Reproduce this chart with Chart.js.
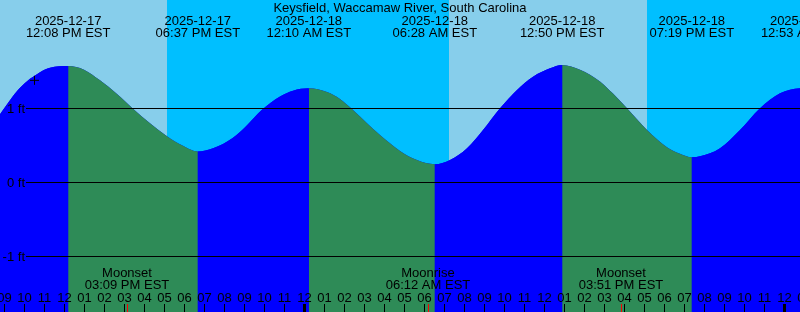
<!DOCTYPE html>
<html><head><meta charset="utf-8">
<script src="https://cdn.jsdelivr.net/npm/chart.js@4/dist/chart.umd.min.js"></script>
<style>html,body{margin:0;padding:0;background:#fff;overflow:hidden}#wrap{width:800px;height:312px;position:relative}</style>
</head><body><div id="wrap"><canvas id="c" width="800" height="312"></canvas></div>
<script>
const chartTitle = "Keysfield, Waccamaw River, South Carolina";
// hours relative to 2025-12-18 00:00 EST, heights in ft
const times   = [-15.275,-14.275,-13.275,-12.775,-11.867,
                 -11.075,-10.275,-9.425,-8.625,-7.775,-6.925,-6.125,-5.383,
                 -4.625,-3.625,-2.925,-2.175,-1.275,-0.625,0.167,
                 1.075,1.725,2.375,3.075,3.725,4.725,5.575,6.467,
                 7.225,8.075,8.875,9.725,10.575,11.375,12.225,12.833,
                 13.725,14.725,15.375,16.075,17.075,18.075,18.725,19.317,
                 20.225,20.725,21.725,22.725,23.725,24.725,24.883];
const heights = [0.93,1.29,1.50,1.56,1.585,
                 1.535,1.39,1.205,1.005,0.805,0.63,0.50,0.422,
                 0.465,0.61,0.78,0.99,1.17,1.25,1.282,
                 1.23,1.135,0.985,0.805,0.645,0.43,0.305,0.248,
                 0.306,0.465,0.714,1.01,1.259,1.439,1.554,1.599,
                 1.535,1.375,1.21,1.01,0.715,0.48,0.39,0.343,
                 0.397,0.465,0.714,1.01,1.214,1.282,1.283];
const extremeTimes = [-11.867,-5.383,0.167,6.467,12.833,19.317,24.883];
const extremeDates = ["2025-12-17","2025-12-17","2025-12-18","2025-12-18","2025-12-18","2025-12-18","2025-12-19"];
const extremeLabels = ["12:08 PM EST","06:37 PM EST","12:10 AM EST","06:28 AM EST","12:50 PM EST","07:19 PM EST","12:53 AM EST"];
const moonTimes = [-8.85, 6.2, 15.85];
const moonEvents = ["Moonset","Moonrise","Moonset"];
const moonLabels = ["03:09 PM EST","06:12 AM EST","03:51 PM EST"];
const dayStarts = [-15.275, 7.175];
const dayEnds = [-6.925, 17.075];
const yTicks = [1, 0, -1];
const yTickLabels = ["1 ft","0 ft","-1 ft"];
const markerTimes = [-13.55];
const markerHeights = [1.39];

const X_MIN = -15.275, X_MAX = 24.725;
const Y_MAX = 182.5/73.5, Y_MIN = -(312-182.5)/73.5;
const TICK_SHIFT = 1.5;
const FONT = '13px "Liberation Sans", Arial, sans-serif';
const RISE = '#0000FF', FALL = '#2E8B57', DAY = '#87CEEB', NIGHT = '#00BFFF';

const bgPlugin = {
  id: 'bg',
  beforeDatasetsDraw(chart) {
    const {ctx, scales: {x}} = chart;
    ctx.save();
    ctx.fillStyle = NIGHT;
    ctx.fillRect(0, 0, 800, 312);
    ctx.fillStyle = DAY;
    for (let i = 0; i < dayStarts.length; i++) {
      const x0 = Math.round(x.getPixelForValue(dayStarts[i]));
      const x1 = Math.round(x.getPixelForValue(dayEnds[i]));
      ctx.fillRect(x0, 0, x1 - x0, 312);
    }
    ctx.restore();
  }
};

const overlayPlugin = {
  id: 'overlay',
  afterDatasetsDraw(chart) {
    const {ctx, scales: {x, y}} = chart;
    ctx.save();
    ctx.strokeStyle = '#000'; ctx.lineWidth = 1;
    ctx.font = FONT; ctx.fillStyle = '#000';
    ctx.textAlign = 'right'; ctx.textBaseline = 'alphabetic';
    yTicks.forEach((v, i) => {
      const py = Math.floor(y.getPixelForValue(v)) + 0.5;
      ctx.beginPath(); ctx.moveTo(26, py); ctx.lineTo(800, py); ctx.stroke();
      ctx.fillText(yTickLabels[i], 25, py + 4.5);
    });
    ctx.textAlign = 'center';
    ctx.fillText(chartTitle, 400, 12);
    extremeTimes.forEach((t, i) => {
      const px = x.getPixelForValue(t);
      ctx.fillText(extremeDates[i], px, 25);
      ctx.fillText(extremeLabels[i], px, 37);
    });
    moonTimes.forEach((t, i) => {
      const px = x.getPixelForValue(t) - TICK_SHIFT;
      ctx.fillText(moonEvents[i], px, 277);
      ctx.fillText(moonLabels[i], px, 289);
    });
    for (let h = Math.floor(X_MIN); h <= Math.ceil(X_MAX) + 1; h++) {
      const px = Math.round(x.getPixelForValue(h) - TICK_SHIFT);
      const hh = ((h % 12) + 12) % 12 || 12;
      ctx.fillStyle = '#000';
      ctx.fillText(String(hh).padStart(2, '0'), px + 0.5, 302);
      const isMidnight = ((h % 24) + 24) % 24 === 0;
      if (isMidnight) ctx.fillRect(px - 1, 304, 3, 8);
      else ctx.fillRect(px, 304, 1, 8);
    }
    ctx.fillStyle = '#FF0000';
    moonTimes.forEach(t => {
      const px = Math.round(x.getPixelForValue(t) - TICK_SHIFT);
      ctx.fillRect(px, 304, 1, 8);
    });
    ctx.restore();
  }
};

const tidePoints = times.map((t, i) => ({x: t, y: heights[i]}));

new Chart(document.getElementById('c'), {
  type: 'line',
  data: {
    datasets: [
      {
        type: 'scatter',
        data: markerTimes.map((t, i) => ({x: t, y: markerHeights[i]})),
        showLine: false, pointStyle: 'cross', pointRadius: 4.5,
        pointBorderColor: '#000', pointBorderWidth: 1, pointBackgroundColor: '#000',
        borderColor: '#000', borderWidth: 1, fill: false, order: 0
      },
      {
        data: tidePoints,
        borderColor: 'rgba(0,0,0,0)', borderWidth: 0, pointRadius: 0,
        cubicInterpolationMode: 'monotone', fill: 'start', backgroundColor: RISE,
        segment: {
          backgroundColor: c => c.p1.parsed.y >= c.p0.parsed.y ? RISE : FALL
        },
        order: 1
      },
      {
        // underlay with the same curve, hides anti-aliasing seams between coloured segments
        data: tidePoints,
        borderColor: 'rgba(0,0,0,0)', borderWidth: 0, pointRadius: 0,
        cubicInterpolationMode: 'monotone', fill: 'start', backgroundColor: RISE,
        order: 2
      }
    ]
  },
  options: {
    responsive: false, animation: false, events: [],
    layout: {padding: 0, autoPadding: false},
    scales: {
      x: {type: 'linear', min: X_MIN, max: X_MAX, display: false},
      y: {type: 'linear', min: Y_MIN, max: Y_MAX, display: false}
    },
    plugins: {legend: {display: false}, tooltip: {enabled: false}, title: {display: false}}
  },
  plugins: [bgPlugin, overlayPlugin]
});
</script></body></html>
